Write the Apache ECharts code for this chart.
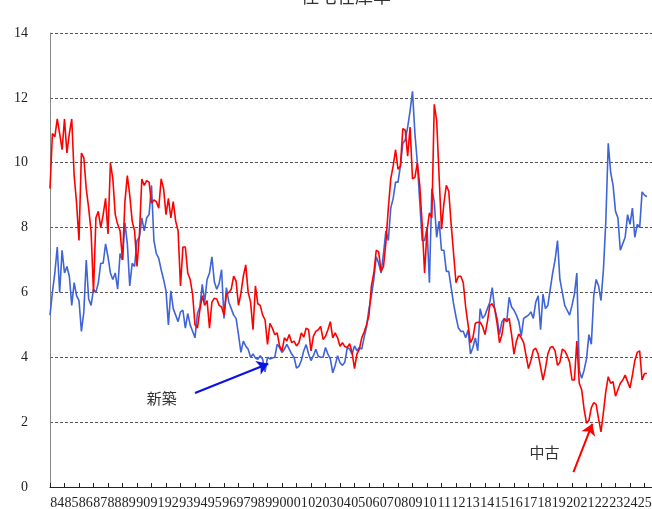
<!DOCTYPE html>
<html>
<head>
<meta charset="utf-8">
<title>住宅在庫率</title>
<script src="https://cdn.jsdelivr.net/npm/echarts@6/dist/echarts.min.js"></script>
<style>
html, body { margin: 0; padding: 0; background: #fff; }
#chart { width: 652px; height: 509px; }
</style>
</head>
<body>
<div id="chart"></div>
<script>
// 1984年1月から2か月ごとの値
const startYear = 1984
const perYear = 6

// 新築
const newBuilt = [
  5.3, 6.0, 6.6, 7.4, 6.0, 7.3,      // 84
  6.6, 6.8, 6.5, 5.6, 6.3, 5.9,      // 85
  5.75, 4.8, 5.4, 7.0, 5.8, 5.6,     // 86
  6.1, 6.0, 6.3, 6.9, 6.9, 7.5,      // 87
  7.1, 6.6, 6.4, 6.6, 6.1, 7.2,      // 88
  7.0, 8.15, 7.5, 6.2, 6.9, 6.8,     // 89
  7.6, 7.7, 8.3, 7.9, 8.3, 8.4,      // 90
  9.3, 7.6, 7.2, 7.05, 6.7, 6.4,     // 91
  6.05, 5.0, 6.05, 5.5, 5.3, 5.1,    // 92
  5.4, 5.45, 4.9, 5.35, 5.0, 4.8,    // 93
  4.6, 5.35, 5.55, 6.25, 5.7, 6.4,   // 94
  6.6, 7.1, 6.33, 6.1, 6.28, 6.7,    // 95
  5.2, 6.15, 5.7, 5.5, 5.3, 5.2,     // 96
  4.7, 4.15, 4.5, 4.35, 4.25, 4.0,   // 97
  4.1, 3.98, 3.94, 4.05, 3.94, 3.55, // 98
  4.0, 3.95, 3.98, 4.0, 4.4, 4.3,    // 99
  4.15, 4.25, 4.4, 4.25, 4.1, 4.0,   // 00
  3.67, 3.72, 3.9, 4.2, 4.39, 4.1,   // 01
  3.9, 4.05, 4.25, 4.03, 4.0, 4.0,   // 02
  4.3, 4.1, 3.95, 3.52, 3.75, 4.05,  // 03
  3.83, 3.75, 3.85, 4.3, 4.25, 4.1,  // 04
  4.35, 4.2, 4.3, 4.25, 4.62, 4.95,  // 05
  5.5, 5.9, 6.4, 7.1, 6.9, 6.6,      // 06
  7.2, 7.9, 7.6, 8.6, 8.9, 9.4,      // 07
  9.4, 9.9, 10.6, 10.7, 11.1, 11.6,  // 08
  12.2, 10.9, 10.0, 8.8, 7.6, 7.6,   // 09
  8.0, 6.3, 9.2, 8.8, 7.7, 8.2,      // 10
  7.3, 7.3, 6.65, 6.65, 6.15, 5.65,  // 11
  5.25, 4.9, 4.8, 4.8, 4.6, 4.85,    // 12
  4.1, 4.3, 4.6, 4.2, 5.5, 5.2,      // 13
  5.3, 5.5, 5.7, 6.15, 5.5, 5.2,     // 14
  4.7, 5.1, 5.2, 5.1, 5.85, 5.55,    // 15
  5.45, 5.3, 5.1, 4.65, 5.2, 5.25,   // 16
  5.3, 5.4, 5.2, 5.7, 5.9, 4.85,     // 17
  5.95, 5.5, 5.6, 6.1, 6.6, 7.0,     // 18
  7.6, 6.4, 6.0, 5.6, 5.45, 5.3,     // 19
  5.6, 5.95, 6.6, 3.6, 3.35, 3.6,    // 20
  3.95, 4.7, 4.4, 5.9, 6.4, 6.2,     // 21
  5.75, 6.7, 8.2, 10.6, 9.7, 9.3,    // 22
  8.5, 8.3, 7.3, 7.5, 7.7, 8.4,      // 23
  8.1, 8.6, 7.7, 8.1, 8.0, 9.1,      // 24
  9.0, 8.95                          // 25
]

// 中古
const secondHand = [
  9.2, 10.9, 10.8, 11.35, 10.9, 10.4,  // 84
  11.35, 10.3, 10.9, 11.35, 9.6, 8.75, // 85
  7.6, 10.3, 10.15, 9.2, 8.6, 7.88,    // 86
  6.0, 8.3, 8.5, 8.0, 8.4, 8.9,        // 87
  7.8, 10.0, 9.5, 8.4, 8.1, 7.9,       // 88
  7.0, 8.8, 9.6, 9.0, 8.2, 7.9,        // 89
  6.8, 7.8, 9.5, 9.3, 9.45, 9.4,       // 90
  8.75, 8.85, 8.8, 8.6, 9.5, 9.2,      // 91
  8.4, 8.9, 8.3, 8.8, 8.2, 7.9,        // 92
  6.2, 7.4, 7.4, 6.6, 6.4, 5.95,       // 93
  5.0, 4.9, 5.45, 5.9, 5.6, 5.75,      // 94
  4.9, 5.7, 5.82, 5.8, 5.6, 5.55,      // 95
  5.3, 5.95, 6.0, 6.1, 6.5, 6.35,      // 96
  5.6, 5.97, 6.5, 6.85, 6.0, 5.7,      // 97
  4.85, 6.2, 5.65, 5.6, 5.3, 5.15,     // 98
  4.4, 5.05, 4.9, 4.7, 4.75, 4.35,     // 99
  4.2, 4.6, 4.5, 4.7, 4.45, 4.5,       // 00
  4.35, 4.45, 4.75, 4.62, 4.9, 4.85,   // 01
  4.2, 4.65, 4.8, 4.85, 4.95, 4.55,    // 02
  4.65, 4.85, 5.1, 4.6, 4.75, 4.6,     // 03
  4.34, 4.45, 4.33, 4.3, 4.42, 4.15,   // 04
  3.65, 4.1, 4.25, 4.6, 4.78, 5.0,     // 05
  5.3, 6.2, 6.6, 7.3, 7.25, 6.65,      // 06
  6.8, 7.55, 8.6, 9.5, 9.9, 10.4,      // 07
  9.8, 9.9, 11.05, 11.0, 10.2, 11.1,   // 08
  9.5, 9.55, 10.0, 9.3, 8.1, 6.6,      // 09
  7.9, 8.45, 8.3, 11.8, 11.3, 9.6,     // 10
  7.95, 8.75, 9.3, 9.12, 8.1, 7.2,     // 11
  6.3, 6.5, 6.5, 6.3, 5.55, 5.0,       // 12
  4.45, 4.6, 5.05, 5.08, 5.08, 4.95,   // 13
  4.7, 5.1, 5.6, 5.65, 5.5, 5.05,      // 14
  4.45, 4.7, 5.2, 5.1, 5.2, 4.7,       // 15
  4.1, 4.5, 4.72, 4.6, 4.45, 4.05,     // 16
  3.65, 3.9, 4.22, 4.28, 4.1, 3.7,     // 17
  3.3, 3.65, 4.1, 4.3, 4.33, 4.2,      // 18
  3.75, 3.85, 4.25, 4.2, 4.05, 3.85,   // 19
  3.3, 3.3, 4.5, 3.2, 3.0, 2.4,        // 20
  1.97, 2.05, 2.45, 2.6, 2.55, 2.1,    // 21
  1.7, 2.3, 2.95, 3.4, 3.2, 3.25,      // 22
  2.8, 3.0, 3.2, 3.3, 3.45, 3.25,      // 23
  3.05, 3.45, 3.9, 4.15, 4.2, 3.3,     // 24
  3.5, 3.5                             // 25
]

// 横軸の年ラベル（84〜25）
const yearLabels = [
  '84', '85', '86', '87', '88', '89', '90', '91', '92', '93', '94', '95', '96', '97',
  '98', '99', '00', '01', '02', '03', '04', '05', '06', '07', '08', '09', '10', '11',
  '12', '13', '14', '15', '16', '17', '18', '19', '20', '21', '22', '23', '24', '25'
]
const yTicks = [0, 2, 4, 6, 8, 10, 12, 14]

// 注記（データ座標）
const newLabel = { text: '新築', at: [1991.7, 2.74] }
const oldLabel = { text: '中古', at: [2018.1, 1.08] }
const newArrow = [[1994.0, 2.9], [1999.05, 3.8]]
const oldArrow = [[2020.1, 0.46], [2021.4, 1.95]]

const toPoints = vals => vals.map((v, i) => [startYear + i / perYear, v])

let myChart = echarts.init(document.getElementById('chart'))

const serif = 'Liberation Serif, DejaVu Serif, Noto Sans CJK JP'
const cjk = 'Noto Sans CJK JP'

let option = {
  animation: false,
  backgroundColor: '#fff',
  title: {
    text: '住宅在庫率',
    left: 296,
    top: -18,
    textStyle: { fontFamily: cjk, fontSize: 18, fontWeight: 'normal', color: '#333' }
  },
  grid: { left: 50, top: 33, width: 602, height: 454, containLabel: false, outerBoundsMode: 'none' },
  xAxis: [
    {
      type: 'value',
      min: startYear,
      max: startYear + 602 / 14.5,
      interval: 1,
      axisLine: { lineStyle: { color: '#222', width: 1 } },
      axisTick: { inside: true, length: 4, lineStyle: { color: '#222' } },
      splitLine: { show: false },
      axisLabel: { show: false }
    },
    {
      // 年ラベル専用の軸
      type: 'category',
      data: yearLabels,
      position: 'bottom',
      boundaryGap: true,
      axisLine: { show: false },
      axisTick: { show: false },
      splitLine: { show: false },
      axisLabel: { interval: 0, margin: 9, fontSize: 14, fontFamily: serif, color: '#222' }
    }
  ],
  yAxis: {
    type: 'value',
    min: yTicks[0],
    max: yTicks[yTicks.length - 1],
    interval: 2,
    axisLine: { show: true, lineStyle: { color: '#888' } },
    axisTick: { show: false },
    axisLabel: { margin: 22, fontSize: 14, fontFamily: serif, color: '#222' },
    splitLine: { lineStyle: { color: '#555', type: [3, 2], width: 1 } }
  },
  series: [
    {
      name: '新築',
      type: 'line',
      xAxisIndex: 0,
      data: toPoints(newBuilt),
      showSymbol: false,
      lineStyle: { color: '#3f63d8', width: 1.6 },
      itemStyle: { color: '#3f63d8' },
      z: 2,
      markLine: {
        silent: true,
        symbol: ['none', 'arrow'],
        symbolSize: 11,
        label: { show: false },
        lineStyle: { color: '#0a10e6', width: 2, type: 'solid' },
        data: [[{ coord: newArrow[0] }, { coord: newArrow[1] }]]
      },
      markPoint: {
        silent: true,
        symbol: 'circle',
        symbolSize: 0,
        label: { show: true, position: 'inside', formatter: newLabel.text, fontFamily: cjk, fontSize: 15, color: '#333' },
        data: [{ coord: newLabel.at }]
      }
    },
    {
      name: '中古',
      type: 'line',
      xAxisIndex: 0,
      data: toPoints(secondHand),
      showSymbol: false,
      lineStyle: { color: '#ff0000', width: 1.6 },
      itemStyle: { color: '#ff0000' },
      z: 3,
      markLine: {
        silent: true,
        symbol: ['none', 'arrow'],
        symbolSize: 11,
        label: { show: false },
        lineStyle: { color: '#ff0000', width: 2, type: 'solid' },
        data: [[{ coord: oldArrow[0] }, { coord: oldArrow[1] }]]
      },
      markPoint: {
        silent: true,
        symbol: 'circle',
        symbolSize: 0,
        label: { show: true, position: 'inside', formatter: oldLabel.text, fontFamily: cjk, fontSize: 15, color: '#333' },
        data: [{ coord: oldLabel.at }]
      }
    }
  ]
}
myChart.setOption(option)
</script>
</body>
</html>
